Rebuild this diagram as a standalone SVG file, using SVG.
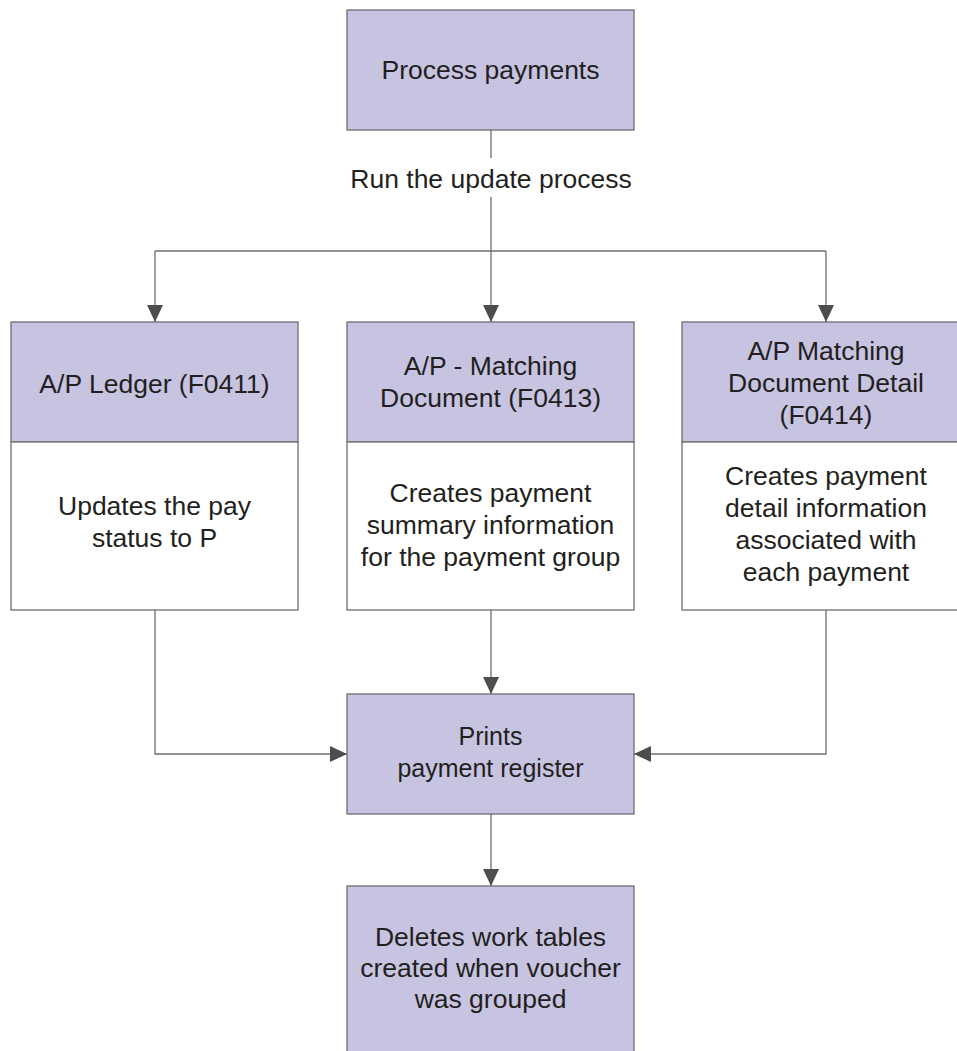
<svg xmlns="http://www.w3.org/2000/svg" width="957" height="1051" viewBox="0 0 957 1051">
<defs>
<style>
.box{fill:#c7c4e2;stroke:#6d6e71;stroke-width:1.3}
.wbox{fill:#ffffff;stroke:#6d6e71;stroke-width:1.3}
.t{font-family:"Liberation Sans",Arial,sans-serif;font-size:26.5px;fill:#231f20;text-anchor:middle}
.c{fill:none;stroke:#6d6e71;stroke-width:1.3}
</style>
<marker id="arr" viewBox="0 0 17 16" refX="17" refY="8" markerWidth="17" markerHeight="16" orient="auto" markerUnits="userSpaceOnUse">
<path d="M0,0 L17,8 L0,16 z" fill="#4d4d4f"/>
</marker>
</defs>
<rect width="957" height="1051" fill="#ffffff"/>

<g id="connectors">
<line class="c" x1="491" y1="130" x2="491" y2="158"/>
<line class="c" x1="491" y1="197" x2="491" y2="251"/>
<line class="c" x1="155" y1="251" x2="826" y2="251"/>
<line class="c" x1="155" y1="251" x2="155" y2="322" marker-end="url(#arr)"/>
<line class="c" x1="491" y1="251" x2="491" y2="322" marker-end="url(#arr)"/>
<line class="c" x1="826" y1="251" x2="826" y2="322" marker-end="url(#arr)"/>
<polyline class="c" points="155,610 155,754 347,754" marker-end="url(#arr)"/>
<polyline class="c" points="826,610 826,754 634,754" marker-end="url(#arr)"/>
<line class="c" x1="491" y1="610" x2="491" y2="694" marker-end="url(#arr)"/>
<line class="c" x1="491" y1="814" x2="491" y2="886" marker-end="url(#arr)"/>
<text class="t" x="491" y="188">Run the update process</text>
</g>

<g id="process-payments">
<rect class="box" x="347" y="10" width="287" height="120"/>
<text class="t" x="490.5" y="79">Process payments</text>
</g>

<g id="ap-ledger">
<rect class="box" x="11" y="322" width="287" height="120"/>
<rect class="wbox" x="11" y="442" width="287" height="168"/>
<text class="t" x="154.5" y="393">A/P Ledger (F0411)</text>
<text class="t" x="154.5" y="515">Updates the pay</text>
<text class="t" x="154.5" y="547">status to P</text>
</g>

<g id="ap-matching-document">
<rect class="box" x="347" y="322" width="287" height="120"/>
<rect class="wbox" x="347" y="442" width="287" height="168"/>
<text class="t" x="490.5" y="375">A/P - Matching</text>
<text class="t" x="490.5" y="407">Document (F0413)</text>
<text class="t" x="490.5" y="502">Creates payment</text>
<text class="t" x="490.5" y="534">summary information</text>
<text class="t" x="490.5" y="566">for the payment group</text>
</g>

<g id="ap-matching-document-detail">
<rect class="box" x="682" y="322" width="287" height="120"/>
<rect class="wbox" x="682" y="442" width="287" height="168"/>
<text class="t" x="826" y="360">A/P Matching</text>
<text class="t" x="826" y="392">Document Detail</text>
<text class="t" x="826" y="424">(F0414)</text>
<text class="t" x="826" y="485">Creates payment</text>
<text class="t" x="826" y="517">detail information</text>
<text class="t" x="826" y="549">associated with</text>
<text class="t" x="826" y="581">each payment</text>
</g>

<g id="prints-payment-register">
<rect class="box" x="347" y="694" width="287" height="120"/>
<text class="t" x="490.5" y="745" style="font-size:25px">Prints</text>
<text class="t" x="490.5" y="777" style="font-size:25px">payment register</text>
</g>

<g id="deletes-work-tables">
<rect class="box" x="347" y="886" width="287" height="180"/>
<text class="t" x="490.5" y="946">Deletes work tables</text>
<text class="t" x="490.5" y="977">created when voucher</text>
<text class="t" x="490.5" y="1008">was grouped</text>
</g>
</svg>
